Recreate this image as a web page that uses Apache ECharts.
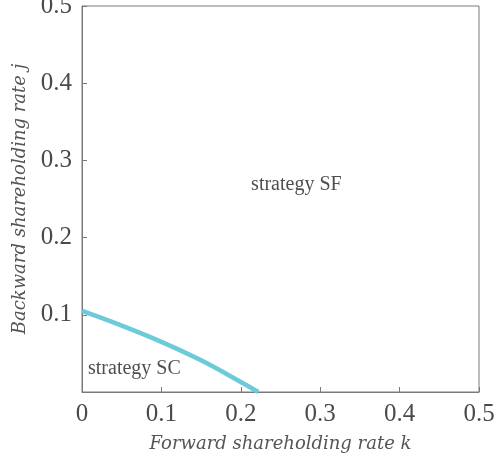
<!DOCTYPE html>
<html>
<head>
    <meta charset="utf-8">
    <title>strategy boundary</title>
    <script src="https://cdn.jsdelivr.net/npm/echarts@6/dist/echarts.min.js"></script>
    <style>
        html, body { margin: 0; padding: 0; background: #fff; }
        #chart { width: 494px; height: 459px; }
    </style>
</head>
<body>
<div id="chart"></div>
<script>
    // boundary curve
    var kValues = [0, 0.05, 0.1, 0.15, 0.2, 0.222];
    var jValues = [0.105, 0.086, 0.065, 0.041, 0.013, 0];
    var yTicks = [0.1, 0.2, 0.3, 0.4, 0.5];
    // region labels: [k, j, text]
    var regionLabels = [
        [0.27, 0.269, 'strategy SF'],
        [0.066, 0.03, 'strategy SC']
    ];

    var axisColor = '#7a7a7a';
    var labelColor = '#4a4a4a';

    var curve = kValues.map(function (k, i) { return [k, jValues[i]]; });

    var option = {
        animation: false,
        grid: {
            left: 82, right: 15, top: 6, bottom: 67,
            outerBoundsMode: 'none', containLabel: false,
            show: true, borderColor: axisColor, borderWidth: 1
        },
        xAxis: {
            type: 'value', min: 0, max: 0.5, interval: 0.1,
            name: 'Forward shareholding rate k',
            nameLocation: 'middle', nameGap: 43,
            nameTextStyle: { fontFamily: 'DejaVu Serif', fontStyle: 'italic', fontSize: 18, color: '#555' },
            axisLine: { lineStyle: { color: axisColor } },
            axisTick: { inside: true, length: 5, lineStyle: { color: axisColor } },
            splitLine: { show: false },
            axisLabel: {
                margin: 10, fontFamily: 'Liberation Serif', fontSize: 25, color: labelColor,
                formatter: function (v) { return v === 0 ? '0' : v.toFixed(1); }
            }
        },
        yAxis: {
            type: 'value', min: 0, max: 0.5, interval: 0.1,
            name: 'Backward shareholding rate j',
            nameLocation: 'middle', nameGap: 53,
            nameTextStyle: { fontFamily: 'DejaVu Serif', fontStyle: 'italic', fontSize: 18, color: '#555' },
            axisLine: { lineStyle: { color: axisColor } },
            axisTick: { inside: true, length: 5, lineStyle: { color: axisColor } },
            splitLine: { show: false },
            axisLabel: {
                margin: 10, fontFamily: 'Liberation Serif', fontSize: 25, color: labelColor,
                formatter: function (v) { return yTicks.indexOf(Math.round(v * 10) / 10) >= 0 && v > 0 ? v.toFixed(1) : ''; }
            }
        },
        series: [{
            type: 'line',
            data: curve,
            smooth: 0.4,
            showSymbol: false,
            lineStyle: { color: '#6ccad9', width: 4.5 }
        }, {
            type: 'scatter',
            data: regionLabels,
            symbolSize: 0,
            label: {
                show: true, position: 'inside',
                formatter: function (p) { return p.data[2]; },
                fontFamily: 'Liberation Serif', fontSize: 20, color: '#222'
            }
        }]
    };

    var myChart = echarts.init(document.getElementById('chart'));
    myChart.setOption(option);
</script>
</body>
</html>
